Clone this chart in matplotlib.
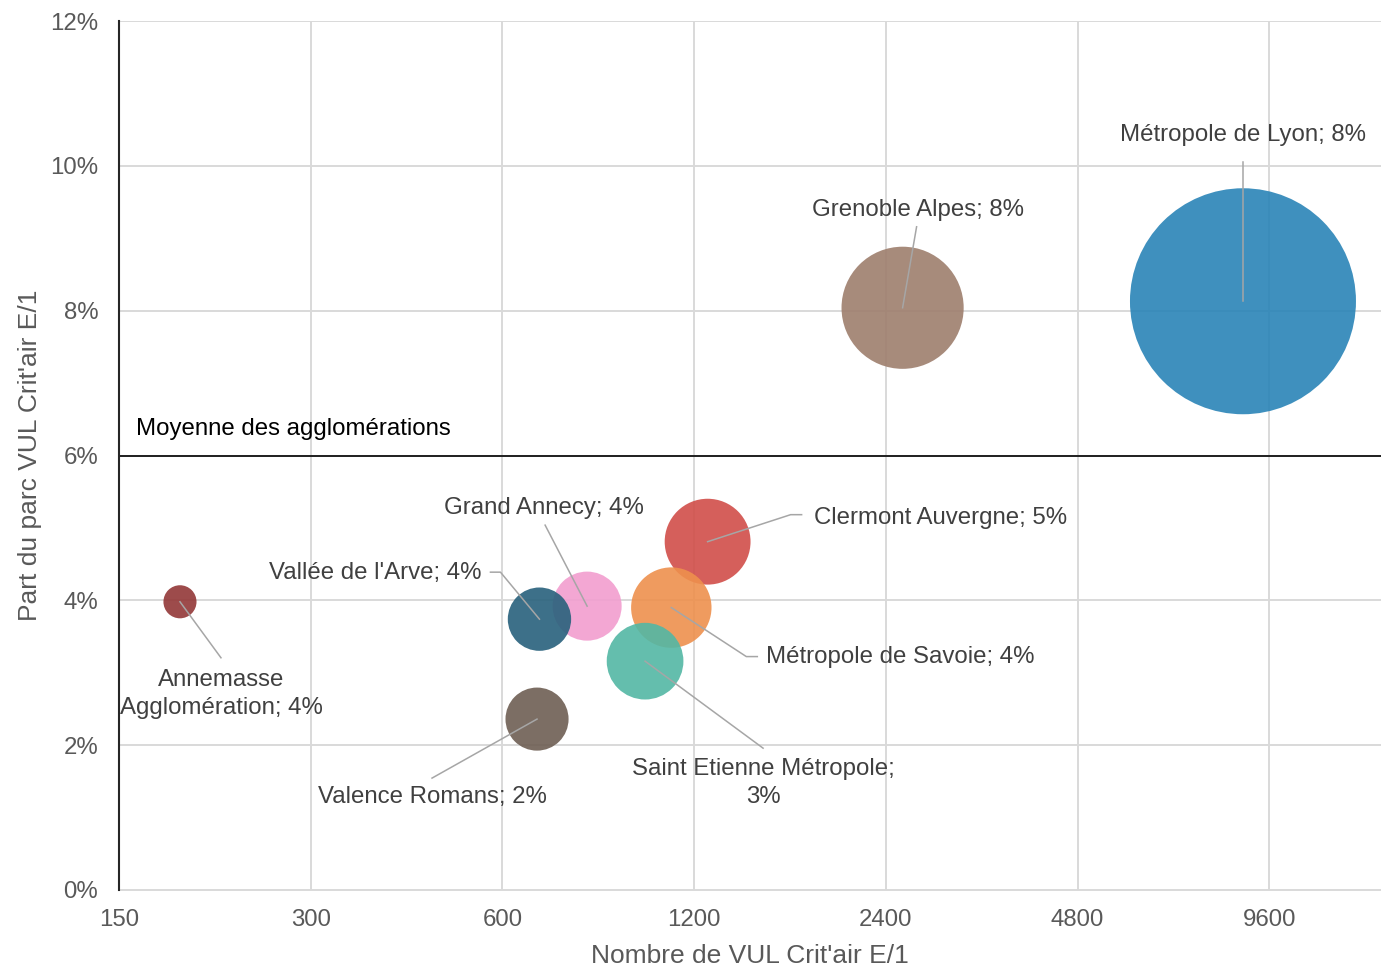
import matplotlib
matplotlib.use("Agg")
import matplotlib.pyplot as plt
from matplotlib.ticker import FixedLocator, FixedFormatter, PercentFormatter, NullLocator
import numpy as np

# ---- data ----
names = ["Métropole de Lyon", "Grenoble Alpes", "Clermont Auvergne", "Métropole de Savoie",
         "Saint Etienne Métropole", "Grand Annecy", "Vallée de l'Arve", "Valence Romans",
         "Annemasse Agglomération"]
nb_vul = [8730, 2550, 1260, 1105, 1005, 815, 686, 680, 187]
part_vul = [0.0813, 0.0804, 0.0481, 0.0390, 0.0316, 0.0392, 0.0374, 0.0236, 0.0398]
label_text = ["Métropole de Lyon; 8%", "Grenoble Alpes; 8%", "Clermont Auvergne; 5%",
              "Métropole de Savoie; 4%", "Saint Etienne Métropole;\n3%", "Grand Annecy; 4%",
              "Vallée de l'Arve; 4%", "Valence Romans; 2%", "Annemasse\nAgglomération; 4%"]
moyenne = 0.06
x_ticks = [150, 300, 600, 1200, 2400, 4800, 9600]
x_tick_labels = ["150", "300", "600", "1200", "2400", "4800", "9600"]
y_ticks = [0, 0.02, 0.04, 0.06, 0.08, 0.10, 0.12]

# ---- style ----
colors = ["#2A84B7", "#9E7E6D", "#D14E49", "#EE904D", "#53B7A4", "#F29ECF",
          "#28617C", "#6E5E53", "#933737"]
# label layout: (leader waypoints offsets in px from bubble center, text offset, ha)
layout = [
    ([(0, -139)], (0, -166), "center"),
    ([(14, -81)], (15, -98), "center"),
    ([(83, -27), (94, -27)], (106, -24), "left"),
    ([(75, 49), (86, 49)], (95, 49), "left"),
    ([(118, 87)], (118, 122), "center"),
    ([(-42, -81)], (-43, -98), "center"),
    ([(-39, -47), (-49, -47)], (-58, -46), "right"),
    ([(-105, 59)], (-105, 78), "center"),
    ([(41, 56)], (41, 92), "center"),
]

plt.rcParams['font.family'] = ['Liberation Sans', 'DejaVu Sans']
FS = 17.3
FS_TITLE = 19
W, H = 1381, 968
fig = plt.figure(figsize=(W / 100, H / 100), dpi=100)
ax = fig.add_axes([119 / W, 1 - 890 / H, (1381 - 119) / W, (890 - 21) / H])

ax.set_xscale("log", base=2)
ax.set_xlim(150, 14380)
ax.set_ylim(0, 0.12)

grid_c = "#D9D9D9"
for xt in x_ticks[1:]:
    ax.axvline(xt, color=grid_c, lw=1.4, zorder=0)
for yt in y_ticks[1:]:
    ax.axhline(yt, color=grid_c, lw=1.4, zorder=0)

max_diam_pt = 226 * 0.72
sizes = [max_diam_pt ** 2 * v / max(nb_vul) for v in nb_vul]
ax.scatter(nb_vul, part_vul, s=sizes, c=colors, alpha=0.9, linewidths=0, zorder=2)

ax.axhline(moyenne, color="black", lw=1.2, zorder=3)
ax.text(150 * 2 ** (17 / 191.7), moyenne + 0.0036, "Moyenne des agglomérations",
        fontsize=FS, color="black", va="center", ha="left", zorder=4)

for sp in ["top", "right"]:
    ax.spines[sp].set_visible(False)
ax.spines["left"].set_color("#262626")
ax.spines["left"].set_linewidth(1.5)
ax.spines["left"].set_zorder(5)
ax.spines["bottom"].set_color(grid_c)
ax.spines["bottom"].set_linewidth(1.4)

ax.xaxis.set_major_locator(FixedLocator(x_ticks))
ax.xaxis.set_major_formatter(FixedFormatter(x_tick_labels))
ax.xaxis.set_minor_locator(NullLocator())
ax.yaxis.set_major_locator(FixedLocator(y_ticks))
ax.yaxis.set_major_formatter(PercentFormatter(1, decimals=0))
ax.tick_params(axis="both", length=0, labelsize=FS, labelcolor="#595959")
ax.tick_params(axis="y", pad=15)
ax.tick_params(axis="x", pad=14)

ax.set_xlabel("Nombre de VUL Crit'air E/1", fontsize=FS_TITLE, color="#595959", labelpad=9)
ax.set_ylabel("Part du parc VUL Crit'air E/1", fontsize=FS_TITLE, color="#595959", labelpad=6)

fig.canvas.draw()
for xv, yv, txt, (pts, toff, ha) in zip(nb_vul, part_vul, label_text, layout):
    cx, cy = ax.transData.transform((xv, yv))
    lx = [cx] + [cx + dx for dx, dy in pts]
    ly = [cy] + [cy - dy for dx, dy in pts]
    fig.add_artist(plt.Line2D(lx, ly, transform=None, color="#A6A6A6", lw=1.1, zorder=6))
    fig.text(cx + toff[0], cy - toff[1], txt, transform=None, fontsize=FS, color="#404040",
             ha=ha, va="center", multialignment="center", linespacing=1.35, zorder=7)

fig.savefig("out.png", dpi=100)
